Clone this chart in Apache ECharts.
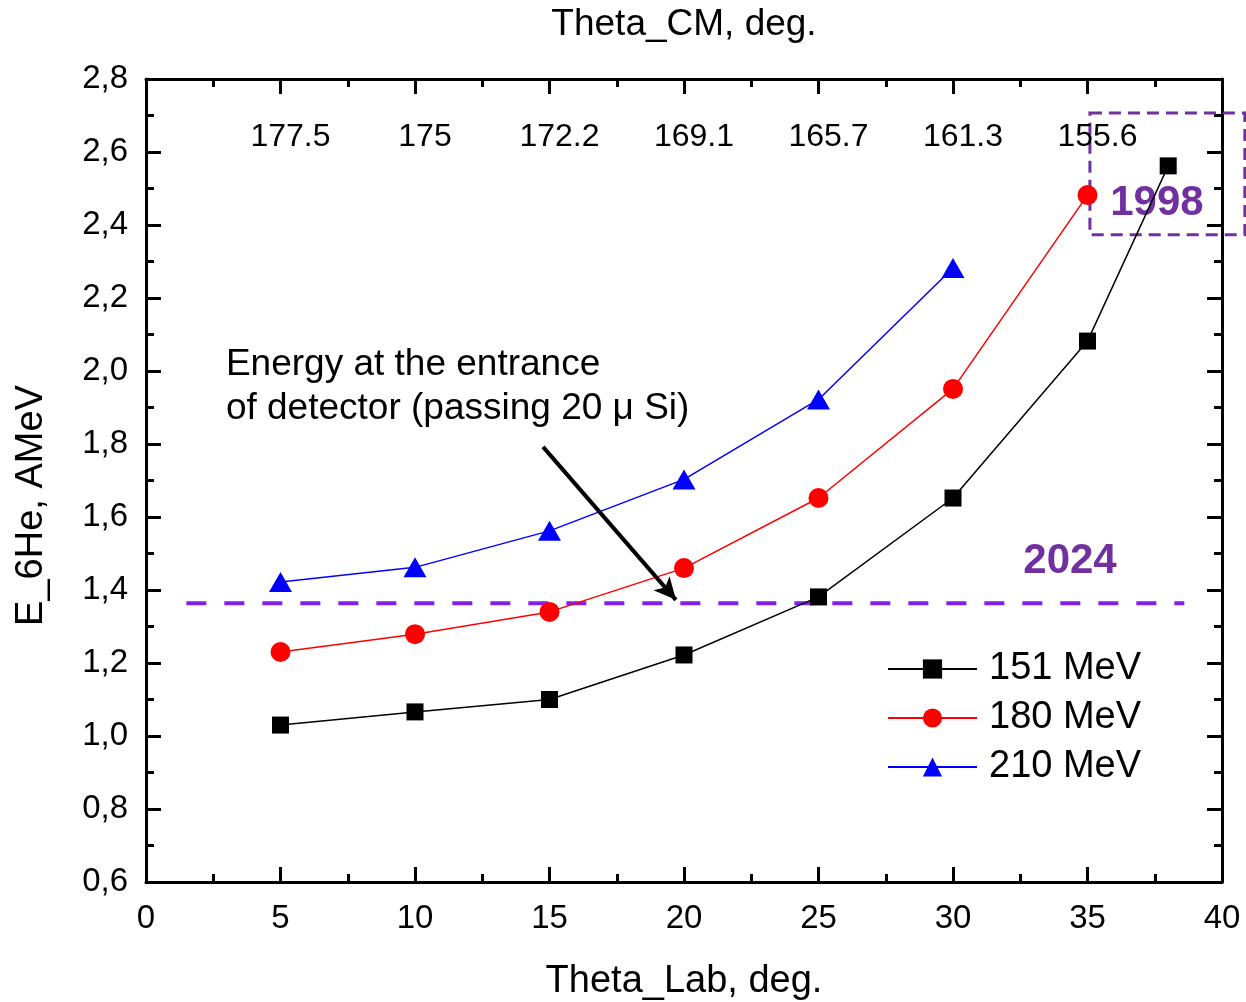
<!DOCTYPE html>
<html><head><meta charset="utf-8">
<script src="https://cdn.jsdelivr.net/npm/echarts@6/dist/echarts.min.js"></script>
<style>html,body{margin:0;padding:0;background:#fff}#c{width:1246px;height:1002px}</style>
</head><body><div id="c"></div>
<script>
const FONT = "'Liberation Sans', Arial, sans-serif";
const thetaLab = [5, 10, 15, 20, 25, 30, 35];
const e151x = [5, 10, 15, 20, 25, 30, 35, 38];
const e151 = [1.03, 1.066, 1.10, 1.222, 1.381, 1.652, 2.082, 2.562];
const e180 = [1.23, 1.279, 1.34, 1.46, 1.652, 1.951, 2.482];
const e210x = [5, 10, 15, 20, 25, 30];
const e210 = [1.422, 1.462, 1.562, 1.703, 1.922, 2.282];
const thetaCM = ['177.5', '175', '172.2', '169.1', '165.7', '161.3', '155.6'];
const cmLabelY = 2.641;
const level2024 = 1.364;
const level2024Range = [1.5, 38.6];
const box1998 = {x: [35.09, 40.85], y: [2.373, 2.707]};
const arrowFrom = [14.76, 1.792], arrowTo = [19.70, 1.373];
const noteText = 'Energy at the entrance\nof detector (passing 20 μ Si)';
const notePos = [2.97, 1.956];
const label2024Pos = [34.35, 1.479];
const label1998Pos = [37.58, 2.46];

const zip = (xs, ys) => xs.map((x, i) => [x, ys[i]]);
const chart = echarts.init(document.getElementById('c'));
const axisCommon = {
  min: 0, max: 40, interval: 5,
  axisLine: {show: true, onZero: false, lineStyle: {color: '#000', width: 3}},
  axisTick: {show: true, inside: true, length: 15, lineStyle: {color: '#000', width: 3}},
  minorTick: {show: true, splitNumber: 2, length: 8, lineStyle: {color: '#000', width: 3}},
  splitLine: {show: false}
};
const yCommon = {
  min: 0.6, max: 2.8, interval: 0.2,
  axisLine: {show: true, onZero: false, lineStyle: {color: '#000', width: 3}},
  axisTick: {show: true, inside: true, length: 15, lineStyle: {color: '#000', width: 3}},
  minorTick: {show: true, splitNumber: 2, length: 8, lineStyle: {color: '#000', width: 3}},
  splitLine: {show: false}
};
chart.setOption({
  animation: false,
  textStyle: {fontFamily: FONT, color: '#000'},
  grid: {left: 146, right: 24, top: 79, bottom: 120, containLabel: false, outerBoundsMode: 'none'},
  xAxis: [
    Object.assign({}, axisCommon, {
      type: 'value', position: 'bottom',
      name: 'Theta_Lab, deg.', nameLocation: 'middle', nameGap: 81,
      nameTextStyle: {fontSize: 38, color: '#000', fontFamily: FONT},
      axisLabel: {fontSize: 33, color: '#000', margin: 20, fontFamily: FONT}
    }),
    Object.assign({}, axisCommon, {
      type: 'value', position: 'top',
      name: 'Theta_CM, deg.', nameLocation: 'middle', nameGap: 36,
      nameTextStyle: {fontSize: 37, color: '#000', fontFamily: FONT},
      axisLabel: {show: false}
    })
  ],
  yAxis: [
    Object.assign({}, yCommon, {
      type: 'value', position: 'left',
      name: 'E_6He, AMeV', nameLocation: 'middle', nameGap: 95, nameRotate: 90,
      nameTextStyle: {fontSize: 38, color: '#000', fontFamily: FONT, padding: [0, 50, 0, 0]},
      axisLabel: {fontSize: 33, color: '#000', margin: 18, fontFamily: FONT,
        formatter: v => v.toFixed(1).replace('.', ',')}
    }),
    Object.assign({}, yCommon, {
      type: 'value', position: 'right', axisLabel: {show: false}
    })
  ],
  legend: {
    data: ['151 MeV', '180 MeV', '210 MeV'],
    orient: 'vertical', left: 887, top: 649, padding: 0,
    itemWidth: 89, itemHeight: 24, itemGap: 9,
    textStyle: {fontSize: 38, color: '#000', fontFamily: FONT, lineHeight: 40, padding: [0, 0, 0, 7]}
  },
  series: [
    {
      name: 'level2024', type: 'line', data: zip(level2024Range, [level2024, level2024]),
      showSymbol: false, symbol: 'none', silent: true,
      lineStyle: {color: '#8020E8', width: 4, type: [20, 18]}
    },
    {
      name: '151 MeV', type: 'line', data: zip(e151x, e151),
      symbol: 'rect', symbolSize: 17, color: '#000',
      lineStyle: {color: '#000', width: 1.5}, itemStyle: {color: '#000'}
    },
    {
      name: '180 MeV', type: 'line', data: zip(thetaLab, e180),
      symbol: 'circle', symbolSize: 20, color: '#FF0000',
      lineStyle: {color: '#FF0000', width: 1.5}, itemStyle: {color: '#FF0000'}
    },
    {
      name: '210 MeV', type: 'line', data: zip(e210x, e210),
      symbol: 'triangle', symbolSize: [23, 20], color: '#0000FF',
      lineStyle: {color: '#0000FF', width: 1.5}, itemStyle: {color: '#0000FF'}
    },
    {
      name: 'cm', type: 'scatter', symbolSize: 0, silent: true,
      itemStyle: {opacity: 1},
      data: thetaLab.map((x, i) => [x, cmLabelY, thetaCM[i]]),
      label: {show: true, position: 'inside', offset: [10, 0], formatter: p => p.value[2],
        fontSize: 32, color: '#000', fontFamily: FONT}
    },
    {
      name: 'notes', type: 'scatter', symbolSize: 0, silent: true,
      itemStyle: {opacity: 1},
      data: [
        {value: notePos, label: {show: true, position: 'right', distance: 0, formatter: noteText,
          fontSize: 37, lineHeight: 44, color: '#000', fontFamily: FONT}},
        {value: label2024Pos, label: {show: true, position: 'inside', formatter: '2024',
          fontSize: 42, fontWeight: 'bold', color: '#7030A0', fontFamily: FONT}},
        {value: label1998Pos, label: {show: true, position: 'inside', formatter: '1998',
          fontSize: 42, fontWeight: 'bold', color: '#7030A0', fontFamily: FONT}}
      ],
      markLine: {
        silent: true, symbol: ['none', 'arrow'], symbolSize: [16, 22],
        label: {show: false},
        lineStyle: {color: '#000', width: 4, type: 'solid', opacity: 1},
        data: [[{coord: arrowFrom}, {coord: arrowTo}]]
      }
    },
    {
      name: 'box', type: 'custom', silent: true, clip: false,
      data: [[box1998.x[0], box1998.y[1], box1998.x[1], box1998.y[0]]],
      renderItem: (params, api) => {
        const p1 = api.coord([api.value(0), api.value(1)]);
        const p2 = api.coord([api.value(2), api.value(3)]);
        return {
          type: 'rect',
          shape: {x: p1[0], y: p1[1], width: p2[0] - p1[0], height: p2[1] - p1[1]},
          style: {fill: 'none', stroke: '#7030A0', lineWidth: 3, lineDash: [12, 7]}
        };
      }
    }
  ]
});
</script></body></html>
